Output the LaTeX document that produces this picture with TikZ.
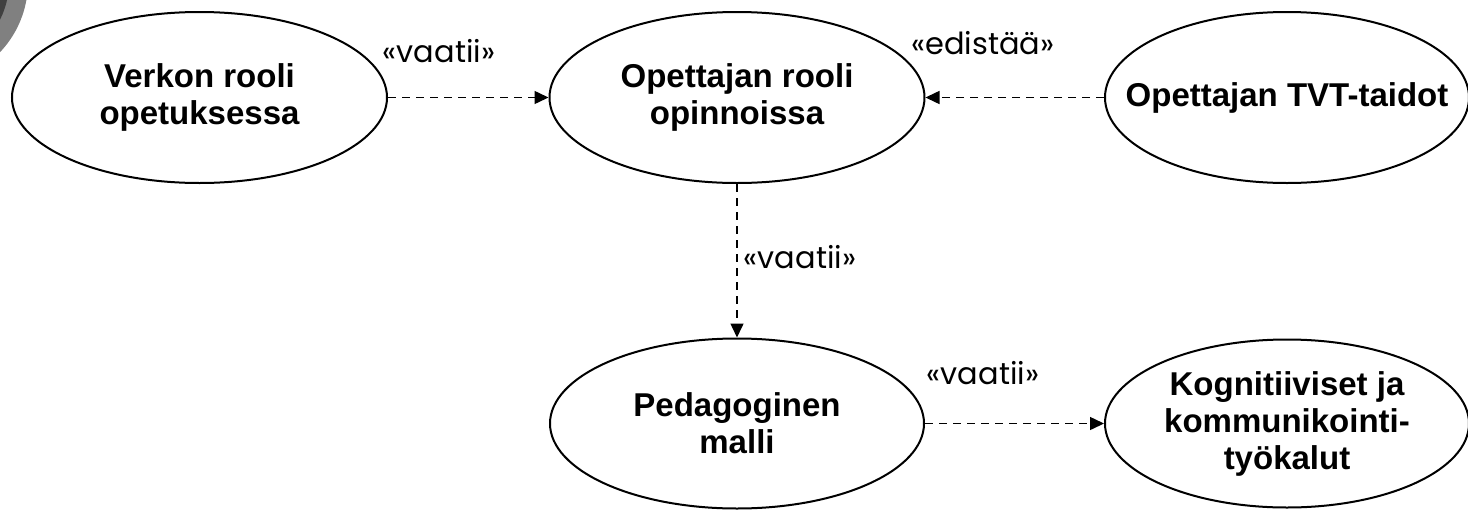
\documentclass[tikz,border=0pt]{standalone}
\usepackage{fontspec}
\setmainfont{Liberation Sans}
\newfontfamily\gothic{Poppins}
\usetikzlibrary{shapes.geometric,arrows.meta}
\definecolor{reuna}{HTML}{808080}
\definecolor{ydin}{HTML}{404040}

\begin{document}
\begin{tikzpicture}[x=0.5pt,y=-0.5pt,
   soikio/.style={ellipse,draw=black,line width=1pt,minimum width=187.5pt,minimum height=85.5pt,inner sep=0pt,align=center,font=\fontsize{16.5}{18.5}\selectfont\bfseries},
   suhde/.style={-{Triangle[length=7pt,width=6.5pt]},line width=0.75pt,dash pattern=on 4pt off 3pt},
   merkki/.style={font=\gothic\fontsize{15.2}{16}\selectfont,inner sep=0pt}]
  \useasboundingbox (0,0) rectangle (1468,509);
  % kulmakuvio
  \fill[reuna] (-74,-18) circle (102);
  \fill[ydin] (-74,-18) circle (83);
  % --- soikiot ---
  \node[soikio] (verkko) at (199.5,97.5) {Verkon rooli\\opetuksessa};
  \node[soikio] (opettaja) at (737,97.5) {Opettajan rooli\\opinnoissa};
  \node[soikio,minimum width=182pt,inner xsep=-20pt] (taidot) at (1287,97.5) {Opettajan TVT-taidot};
  \node[soikio,minimum width=187pt,minimum height=85pt] (malli) at (737,423.5) {Pedagoginen\\malli};
  \node[soikio,minimum width=182pt,minimum height=84pt] (tyokalut) at (1287,423.5) {Kognitiiviset ja\\kommunikointi-\\työkalut};
  % --- suhteet ---
  \draw[suhde] (verkko) -- (opettaja);
  \draw[suhde] (taidot) -- (opettaja);
  \draw[suhde] (opettaja) -- (malli);
  \draw[suhde] (malli) -- (tyokalut);
  % --- stereotyypit ---
  \node[merkki] (vaatii1) at (439,51) {«vaatii»};
  \node[merkki] (edistaa) at (983,43) {«edistää»};
  \node[merkki] (vaatii2) at (800,257.5) {«vaatii»};
  \node[merkki] (vaatii3) at (983,373.5) {«vaatii»};
\end{tikzpicture}
\end{document}
